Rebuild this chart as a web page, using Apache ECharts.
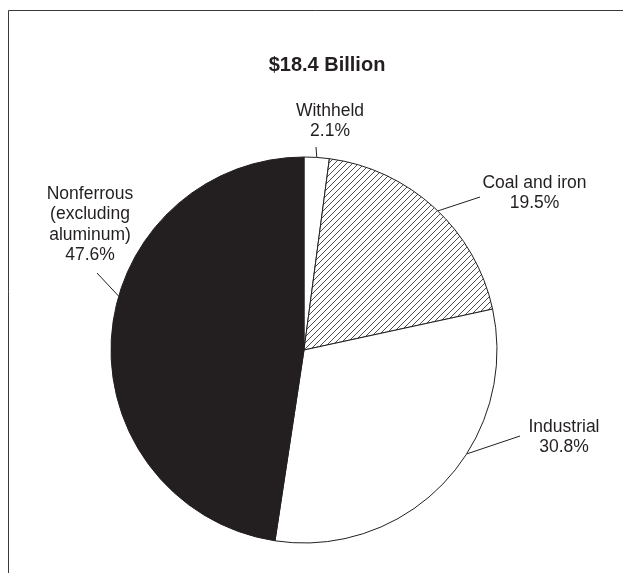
<!DOCTYPE html>
<html>
<head>
<meta charset="utf-8">
<script src="https://cdn.jsdelivr.net/npm/echarts@6/dist/echarts.min.js"></script>
<style>html,body{margin:0;padding:0;background:#fff;}#c{width:623px;height:573px;}</style>
</head>
<body>
<div id="c"></div>
<script>
var titleText = '$18.4 Billion';
var categories = ['Withheld', 'Coal and iron', 'Industrial', 'Nonferrous\n(excluding\naluminum)'];
var shares = [2.1, 19.5, 30.8, 47.6];

var INK = '#231f20';
var CX = 304, CY = 350, R = 193;
var FONT = 'Liberation Sans, Arial, Helvetica, sans-serif';

// label placement: text centre x, text top y, leader outer end, leader angle on rim (deg clockwise from 12 o'clock)
var labelPlace = [
  {x: 330, y: 100.5, end: [316, 147], ang: 3.8},
  {x: 534.5, y: 172.5, end: [480, 197], ang: 43.9},
  {x: 564, y: 416.5, end: [520, 436], ang: 122.6},
  {x: 90, y: 183.5, end: [97, 273], ang: 286.2}
];

function hatch() {
  var s = 6;
  var c = document.createElement('canvas');
  c.width = s; c.height = s;
  var g = c.getContext('2d');
  g.fillStyle = '#fff';
  g.fillRect(0, 0, s, s);
  g.strokeStyle = INK;
  g.lineWidth = 0.8;
  g.beginPath();
  g.moveTo(-1, s + 1); g.lineTo(s + 1, -1);
  g.moveTo(-1, 1); g.lineTo(1, -1);
  g.moveTo(s - 1, s + 1); g.lineTo(s + 1, s - 1);
  g.stroke();
  return c;
}

var fills = ['#ffffff', {image: hatch(), repeat: 'repeat'}, '#ffffff', INK];

var data = categories.map(function (n, i) {
  return {name: n, value: shares[i], itemStyle: {color: fills[i]}};
});

var chart = echarts.init(document.getElementById('c'), null, {renderer: 'canvas'});
chart.setOption({
  animation: false,
  title: {
    text: titleText, left: 322, top: 50, textAlign: 'center',
    textStyle: {fontFamily: FONT, fontWeight: 'bold', fontSize: 20, color: INK}
  },
  graphic: [
    {type: 'line', shape: {x1: 8.5, y1: 10.5, x2: 623, y2: 10.5}, style: {stroke: '#3a3a3a', lineWidth: 1}},
    {type: 'line', shape: {x1: 8.5, y1: 10.5, x2: 8.5, y2: 573}, style: {stroke: '#3a3a3a', lineWidth: 1}}
  ],
  series: [{
    type: 'pie',
    center: [CX, CY],
    radius: [0, R],
    startAngle: 90,
    clockwise: true,
    avoidLabelOverlap: false,
    silent: true,
    data: data,
    itemStyle: {borderColor: INK, borderWidth: 1},
    label: {
      show: true,
      formatter: function (p) { return p.name + '\n' + p.value + '%'; },
      fontFamily: FONT, fontSize: 17.5, lineHeight: 20.5, color: INK, align: 'center'
    },
    labelLine: {show: true, lineStyle: {color: INK, width: 1}},
    labelLayout: function (params) {
      var lp = labelPlace[params.dataIndex];
      var a = lp.ang * Math.PI / 180;
      var rim = [CX + R * Math.sin(a), CY - R * Math.cos(a)];
      return {
        x: lp.x, y: lp.y, align: 'center', verticalAlign: 'top',
        labelLinePoints: [rim, lp.end, lp.end]
      };
    }
  }]
});
</script>
</body>
</html>
